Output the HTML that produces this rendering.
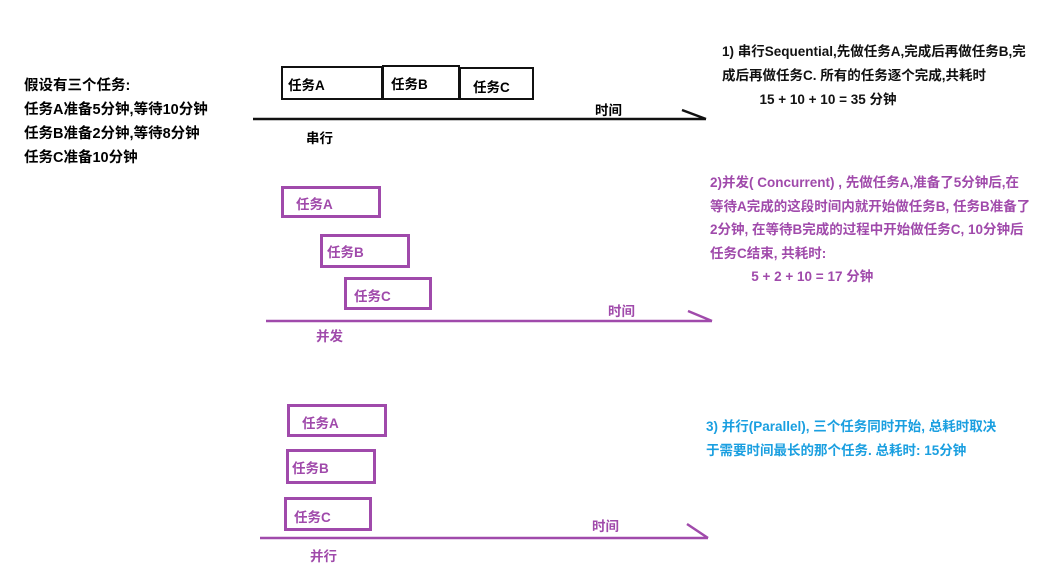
<!DOCTYPE html>
<html><head><meta charset="utf-8"><style>
body{margin:0;width:1037px;height:577px;background:#fff;position:relative;overflow:hidden;font-family:"Liberation Sans","Noto Sans CJK SC",sans-serif;font-weight:bold;font-size:13.5px}
.t{position:absolute;white-space:nowrap;line-height:14px}
.b{position:absolute;box-sizing:border-box}
.k{border:2px solid #111;color:#111}
.p{border:3px solid #a04aab;color:#a04aab}
.p2{color:#a04aab}
.bl{color:#1a9fe0}
</style></head><body>
<div class="t" style="left:24px;top:74px;line-height:24px;font-size:14.5px">假设有三个任务:<br>任务A准备5分钟,等待10分钟<br>任务B准备2分钟,等待8分钟<br>任务C准备10分钟</div>

<div class="b k" style="left:281px;top:66px;width:102px;height:34px"></div>
<div class="b k" style="left:382px;top:65px;width:78px;height:35px"></div>
<div class="b k" style="left:459px;top:67px;width:75px;height:33px"></div>
<div class="t" style="left:288px;top:79px">任务A</div>
<div class="t" style="left:391px;top:78px">任务B</div>
<div class="t" style="left:473px;top:81px">任务C</div>
<div class="t" style="left:595px;top:104px">时间</div>
<div class="t" style="left:306px;top:132px">串行</div>

<div class="b p" style="left:281px;top:186px;width:100px;height:32px"></div>
<div class="b p" style="left:320px;top:234px;width:90px;height:34px"></div>
<div class="b p" style="left:344px;top:277px;width:88px;height:33px"></div>
<div class="t p2" style="left:296px;top:198px">任务A</div>
<div class="t p2" style="left:327px;top:246px">任务B</div>
<div class="t p2" style="left:354px;top:290px">任务C</div>
<div class="t p2" style="left:608px;top:305px">时间</div>
<div class="t p2" style="left:316px;top:330px">并发</div>

<div class="b p" style="left:287px;top:404px;width:100px;height:33px"></div>
<div class="b p" style="left:286px;top:449px;width:90px;height:35px"></div>
<div class="b p" style="left:284px;top:497px;width:88px;height:34px"></div>
<div class="t p2" style="left:302px;top:417px">任务A</div>
<div class="t p2" style="left:292px;top:462px">任务B</div>
<div class="t p2" style="left:294px;top:511px">任务C</div>
<div class="t p2" style="left:592px;top:520px">时间</div>
<div class="t p2" style="left:310px;top:550px">并行</div>

<svg style="position:absolute;left:0;top:0" width="1037" height="577">
<g fill="none" stroke-width="2.5">
<path d="M253 119H706M682 110L706 119" stroke="#111"/>
<path d="M266 321H712M688 311L712 321" stroke="#a04aab"/>
<path d="M260 538H708M687 524L708 538" stroke="#a04aab"/>
</g>
</svg>

<div class="t" style="left:722px;top:40px;line-height:24px;color:#111">1) 串行Sequential,先做任务A,完成后再做任务B,完<br>成后再做任务C. 所有的任务逐个完成,共耗时<br>&nbsp;&nbsp;&nbsp;&nbsp;&nbsp;&nbsp;&nbsp;&nbsp;&nbsp;&nbsp;15 + 10 + 10 = 35 分钟</div>

<div class="t p2" style="left:710px;top:171px;line-height:23.5px">2)并发( Concurrent) , 先做任务A,准备了5分钟后,在<br>等待A完成的这段时间内就开始做任务B, 任务B准备了<br>2分钟, 在等待B完成的过程中开始做任务C, 10分钟后<br>任务C结束, 共耗时:<br>&nbsp;&nbsp;&nbsp;&nbsp;&nbsp;&nbsp;&nbsp;&nbsp;&nbsp;&nbsp;&nbsp;5 + 2 + 10 = 17 分钟</div>

<div class="t bl" style="left:706px;top:415px;line-height:24px">3) 并行(Parallel), 三个任务同时开始, 总耗时取决<br>于需要时间最长的那个任务. 总耗时: 15分钟</div>
</body></html>
